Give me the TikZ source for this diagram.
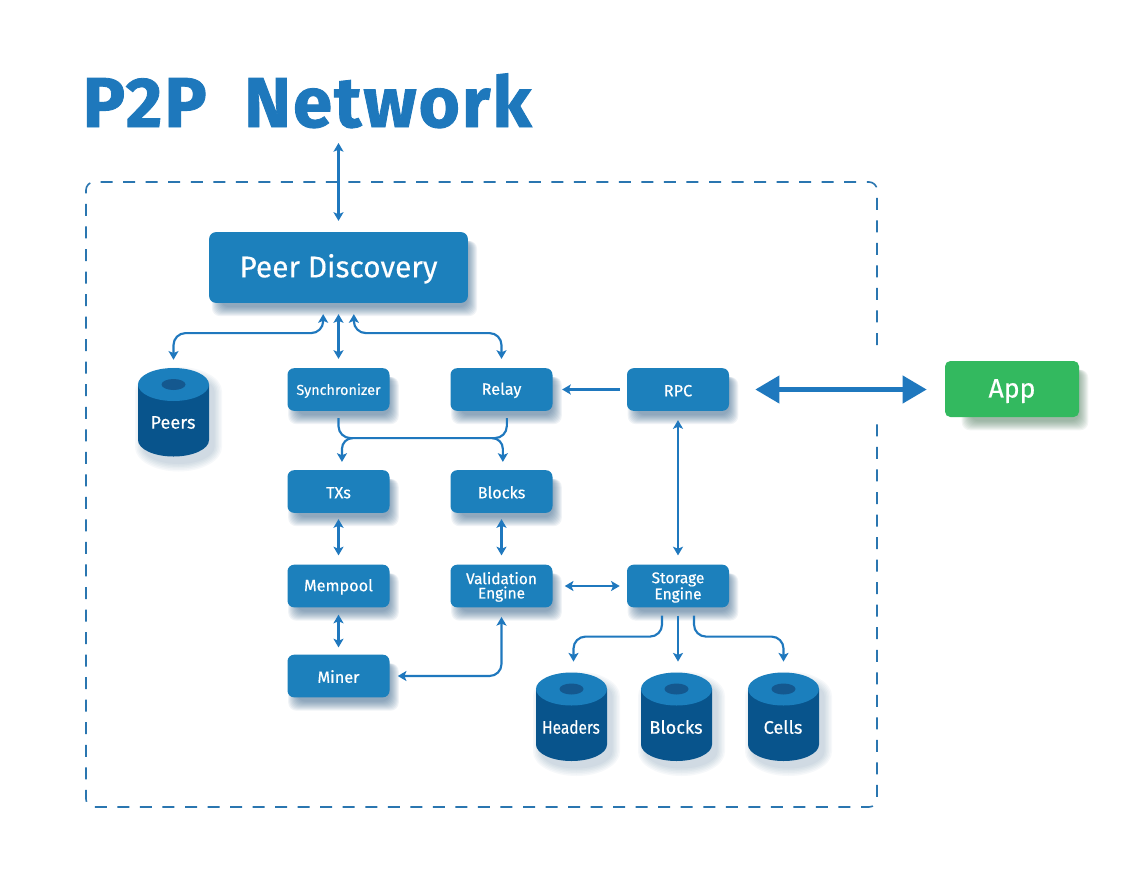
\documentclass[tikz,border=0pt]{standalone}
\usepackage{fontspec}
\usepackage{graphicx}
\setmainfont{Fira Sans}
\usetikzlibrary{arrows.meta,backgrounds,calc}
\definecolor{boxc}{HTML}{1C80BC}
\definecolor{cyltop}{HTML}{1B7FBD}
\definecolor{cylbody}{HTML}{08548C}
\definecolor{cylhole}{HTML}{14588F}
\definecolor{linec}{HTML}{1F78BE}
\definecolor{dashc}{HTML}{2A76B0}
\definecolor{appc}{HTML}{33B95F}
\definecolor{shblue}{HTML}{2F5F88}
\definecolor{shgreen}{HTML}{4F7F5F}
\definecolor{titlec}{HTML}{1E78BC}
\newcommand{\med}{\addfontfeature{FakeBold=0.35}}
\tikzset{
  x=0.75pt,y=-0.75pt,
  stagebox/.style={fill=boxc,rounded corners=5pt,text=white,align=center,inner sep=0pt,
    minimum width=76.5pt,minimum height=32pt,font=\fontsize{12.2}{11.2}\selectfont\med},
  bigbox/.style={stagebox,minimum width=194pt,minimum height=53pt,font=\fontsize{22.4}{24}\selectfont\med},
  appbox/.style={stagebox,fill=appc,rounded corners=4pt,minimum width=100.5pt,minimum height=42pt,font=\fontsize{20}{24}\selectfont\med},
  cylbox/.style={minimum width=53.25pt,minimum height=66pt,inner sep=0pt,text=white},
  conn/.style={draw=linec,line width=1.6pt,{Stealth[length=6.5pt,width=7.5pt,inset=1.5pt]}-{Stealth[length=6.5pt,width=7.5pt,inset=1.5pt]}},
  oneway/.style={draw=linec,line width=1.6pt,-{Stealth[length=6.5pt,width=7.5pt,inset=1.5pt]}},
  plainline/.style={draw=linec,line width=1.6pt},
  bigarrow/.style={draw=linec,line width=3.75pt,{Triangle[length=18pt,width=20pt]}-{Triangle[length=18pt,width=20pt]}},
  frameline/.style={draw=dashc,line width=1.2pt,dash pattern=on 9pt off 7.9pt,rounded corners=6pt},
  titletext/.style={text=titlec,font=\fontsize{53}{60}\bfseries\selectfont\addfontfeature{FakeBold=1.2,LetterSpace=3},inner sep=0pt,anchor=base west}
}
% soft drop shadow under a named rectangular node: #2 = left inset of the shadow
\newcommand{\softshadow}[3]{%
  \begin{pgfonlayer}{background}
  \foreach \s in {7,6,5,4,3,2,1,0,-1,-2}{
    \fill[#3,opacity=.07,rounded corners=6pt]
      ([shift={(#2-\s,9)}]#1.north west) rectangle ([shift={(2+\s,6+\s)}]#1.south east);
  }
  \end{pgfonlayer}}
% cylinder drawn round a named node (centre x, top y)
\newcommand{\cylinder}[5][\fontsize{13.6}{16}\selectfont\med]{%
  \begin{scope}
  \foreach \s in {8,6.5,5,3.5,2,0.5}{
    \fill[shblue,opacity=.04,shift={(5,7)}] (#3-35.5-\s,#4+17)
      arc[start angle=180,end angle=0,x radius=35.5+\s,y radius=-16.5-\s]
      -- (#3+35.5+\s,#4+72.5)
      arc[start angle=0,end angle=180,x radius=35.5+\s,y radius=16.5+\s] -- cycle;
  }
  \fill[cylbody] (#3-35.5,#4+17) -- (#3+35.5,#4+17) -- (#3+35.5,#4+72.5)
    arc[start angle=0,end angle=180,x radius=35.5,y radius=16.5] -- cycle;
  \fill[cyltop] (#3,#4+17) ellipse[x radius=35.5,y radius=16.5];
  \fill[cylhole] (#3,#4+17) ellipse[x radius=12,y radius=5.5];
  \end{scope}
  \node[cylbox] (#2) at (#3,#4+44.5) {};
  \node[text=white,font=#1,inner sep=0pt] at (#3-.5,#4+55) {#5};
}
\newcommand{\dn}{\rule{0pt}{10.4pt}}
\newcommand{\dnbig}{\rule{0pt}{19.5pt}}
\begin{document}
\begin{tikzpicture}
\begin{pgfonlayer}{background}
\fill[white] (0,0) rectangle (1148,874);
\end{pgfonlayer}
\useasboundingbox (0,0) rectangle (1148,874);

\node[titletext] (title) at (82.5,127) {P2P\hspace{28pt}Network};

% frame
\coordinate (frameA) at (877,345);
\coordinate (frameB) at (877,424);
\draw[frameline] (frameA) -- (877,182) -- (86,182) -- (86,807) -- (877,807) -- (frameB);

% boxes
\node[bigbox] (pd) at (338.5,267.5) {\dnbig Peer Discovery};
\node[stagebox,font=\fontsize{10.8}{12}\selectfont\med] (sync) at (338.5,389.5) {\dn Synchronizer};
\node[stagebox] (relay) at (501.5,389.5) {\dn Relay};
\node[stagebox] (rpc) at (678,389.5) {\dn RPC};
\node[stagebox] (txs) at (338.5,491.5) {\dn TXs};
\node[stagebox] (blocks) at (501.5,491.5) {\dn Blocks};
\node[stagebox] (mempool) at (338.5,586) {\dn Mempool};
\node[stagebox,font=\fontsize{11.6}{11.2}\selectfont\med] (valid) at (501.5,586) {\dn Validation\\[-0.4pt]Engine};
\node[stagebox,font=\fontsize{11.6}{11.2}\selectfont\med] (storage) at (678,586) {\dn Storage\\[-0.4pt]Engine};
\node[stagebox] (miner) at (338.5,676) {\dn Miner};
\node[appbox] (app) at (1012,389) {\rule{0pt}{17pt}App};

\foreach \n in {sync,relay,rpc,txs,blocks,mempool,valid,storage,miner}{\softshadow{\n}{8}{shblue}}
\softshadow{pd}{10}{shblue}
\softshadow{app}{24}{shgreen}

% cylinders
\cylinder{peers}{173.5}{367.5}{Peers}
\cylinder{cheaders}{571.5}{672}{\scalebox{.85}[1]{Headers}}
\cylinder{cblocks}{676.5}{672}{Blocks}
\cylinder{ccells}{783.5}{672}{Cells}

% connectors
\coordinate (net) at (338.5,143);
\draw[conn,shorten >=8.25pt] (net) -- (pd.north);
\draw[conn,rounded corners=9pt,shorten <=8.25pt,shorten >=6pt]
  ([xshift=-11.5pt]pd.south) -- ++(0,30) -| (peers.north);
\draw[conn,shorten <=8.25pt,shorten >=6.75pt] (pd.south) -- (sync.north);
\draw[conn,rounded corners=9pt,shorten <=8.25pt,shorten >=6.75pt]
  ([xshift=11.5pt]pd.south) -- ++(0,30) -| (relay.north);

\draw[plainline,rounded corners=9pt,shorten <=5.25pt,shorten >=5.25pt]
  (sync.south) -- ++(0,27) -| ([xshift=4pt]relay.south);
\coordinate (busL) at ($(sync.south)+(14,27)$);
\coordinate (busR) at ($(relay.south)+(-8,27)$);
\draw[oneway,rounded corners=8pt,shorten >=6pt] (busL) -| ([xshift=2.6pt]txs.north);
\draw[oneway,rounded corners=8pt,shorten >=6pt] (busR) -| ([xshift=1pt]blocks.north);

\draw[oneway,shorten <=5.25pt,shorten >=7pt] (rpc.west) -- (relay.east);
\draw[conn,shorten <=6.75pt,shorten >=6.75pt] (rpc.south) -- (storage.north);
\draw[conn,shorten <=4.5pt,shorten >=6.75pt] (txs.south) -- (mempool.north);
\draw[conn,shorten <=4.5pt,shorten >=6.75pt] (blocks.south) -- (valid.north);
\draw[conn,shorten <=9pt,shorten >=5.25pt] (valid.east) -- (storage.west);
\draw[conn,shorten <=5.25pt,shorten >=5.25pt] (mempool.south) -- (miner.north);
\draw[conn,rounded corners=9pt,shorten <=6pt,shorten >=7pt] (miner.east) -| (valid.south);

\draw[oneway,rounded corners=9pt,shorten <=6pt,shorten >=8pt]
  ([xshift=-12pt]storage.south) -- ++(0,29) -| ([xshift=1.5pt]cheaders.north);
\draw[oneway,shorten <=6pt,shorten >=8pt] (storage.south) -- (storage.south |- cblocks.north);
\draw[oneway,rounded corners=9pt,shorten <=6pt,shorten >=8pt]
  ([xshift=12pt]storage.south) -- ++(0,29) -| (ccells.north);

\draw[bigarrow,shorten <=19.5pt,shorten >=13.5pt] (rpc.east) -- (rpc.east -| app.west);
\end{tikzpicture}
\end{document}
